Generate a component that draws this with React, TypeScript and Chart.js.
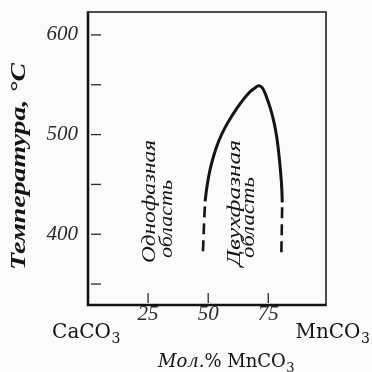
import React, { useEffect, useRef } from "react";
import { Chart, registerables } from "chart.js";

Chart.register(...registerables);

// Phase boundary (solid part), x = mol.% MnCO3, y = temperature °C
const curveX = [48.7, 49.5, 50.6, 52.2, 54.3, 57.0, 60.2, 63.6, 67.0, 69.6, 71.0, 72.5, 74.2, 75.9, 77.4, 78.6, 79.5, 80.2, 80.6, 80.8];
const curveY = [433, 448, 463, 478, 493, 507, 520, 532, 542, 547, 549, 547, 538, 526, 512, 496, 478, 460, 446, 432];
// Dashed extrapolated parts
const leftDashX = [48.7, 48.2, 47.8];
const leftDashY = [433, 407, 381];
const rightDashX = [80.8, 80.6, 80.4];
const rightDashY = [432, 404, 377];

const xTicks = [25, 50, 75];
const yTicks = [350, 400, 450, 500, 550, 600];
const yLabeled = [400, 500, 600];
const xMin = 0;
const xMax = 99;
const yMin = 329;
const yMax = 623;

const leftComponent = ["CaCO", "3"];
const rightComponent = ["MnCO", "3"];
const xTitleParts = ["Мол.", "% MnCO", "3"];
const yTitle = "Температура, °C";
const region1 = ["Однофазная", "область"];
const region2 = ["Двухфазная", "область"];

const INK = "#141414";

function toPts(xs: number[], ys: number[]) {
  return xs.map((x, i) => ({ x, y: ys[i] }));
}

function drawFitted(ctx: CanvasRenderingContext2D, text: string, x: number, y: number, font: string, target: number, angle: number) {
  ctx.save();
  ctx.translate(x, y);
  ctx.rotate(angle);
  ctx.font = font;
  const w = ctx.measureText(text).width;
  ctx.scale(target / w, 1);
  ctx.textAlign = "left";
  ctx.textBaseline = "alphabetic";
  ctx.fillText(text, 0, 0);
  ctx.restore();
}

function drawFormula(ctx: CanvasRenderingContext2D, parts: string[], cx: number, baseline: number) {
  const fBase = "20px 'DejaVu Serif'";
  const fSub = "14px 'DejaVu Serif'";
  ctx.font = fBase;
  const wb = ctx.measureText(parts[0]).width;
  ctx.font = fSub;
  const ws = ctx.measureText(parts[1]).width;
  const start = cx - (wb + ws) / 2;
  ctx.textAlign = "left";
  ctx.textBaseline = "alphabetic";
  ctx.font = fBase;
  ctx.fillText(parts[0], start, baseline);
  ctx.font = fSub;
  ctx.fillText(parts[1], start + wb + 0.5, baseline + 5);
}

const decorPlugin = {
  id: "decor",
  beforeDraw(chart: any) {
    const ctx = chart.ctx as CanvasRenderingContext2D;
    ctx.save();
    ctx.fillStyle = "#fbfbfb";
    ctx.fillRect(0, 0, chart.width, chart.height);
    ctx.restore();
  },
  afterDraw(chart: any) {
    const ctx = chart.ctx as CanvasRenderingContext2D;
    const { left, right, top, bottom } = chart.chartArea;
    const xs = chart.scales.x;
    const ys = chart.scales.y;
    ctx.save();
    ctx.strokeStyle = INK;
    ctx.fillStyle = INK;
    // frame
    ctx.lineWidth = 1.5;
    ctx.beginPath();
    ctx.moveTo(left, top);
    ctx.lineTo(right, top);
    ctx.lineTo(right, bottom);
    ctx.stroke();
    ctx.lineWidth = 2.6;
    ctx.beginPath();
    ctx.moveTo(left, top - 0.7);
    ctx.lineTo(left, bottom);
    ctx.lineTo(right + 0.7, bottom);
    ctx.stroke();
    // inner ticks
    ctx.lineWidth = 1.3;
    ctx.strokeStyle = "#2a2a2a";
    yTicks.forEach((v) => {
      const py = ys.getPixelForValue(v);
      ctx.beginPath();
      ctx.moveTo(left + 3, py);
      ctx.lineTo(left + 13, py);
      ctx.stroke();
    });
    xTicks.forEach((v) => {
      const px = xs.getPixelForValue(v);
      ctx.beginPath();
      ctx.moveTo(px, bottom - 2);
      ctx.lineTo(px, bottom - 12);
      ctx.stroke();
    });
    ctx.fillStyle = INK;
    // component labels at the ends of the x axis
    drawFormula(ctx, leftComponent, xs.getPixelForValue(0) - 2, 338);
    drawFormula(ctx, rightComponent, xs.getPixelForValue(100) + 4, 338);
    // x title
    {
      let x = 158;
      const base = 367;
      ctx.textAlign = "left";
      ctx.textBaseline = "alphabetic";
      ctx.font = "italic 18px 'DejaVu Serif'";
      ctx.fillText(xTitleParts[0], x, base);
      x += ctx.measureText(xTitleParts[0]).width;
      ctx.font = "18px 'DejaVu Serif'";
      ctx.fillText(xTitleParts[1], x, base);
      x += ctx.measureText(xTitleParts[1]).width + 0.5;
      ctx.font = "13px 'DejaVu Serif'";
      ctx.fillText(xTitleParts[2], x, base + 5);
    }
    // y title
    drawFitted(ctx, yTitle, 25, 270, "italic bold 21px 'Liberation Serif'", 207, -Math.PI / 2);
    // region labels
    const rf = "italic 19px 'Liberation Serif'";
    drawFitted(ctx, region1[0], 155, 263, rf, 123, -Math.PI / 2);
    drawFitted(ctx, region1[1], 172, 258, rf, 78, -Math.PI / 2);
    drawFitted(ctx, region2[0], 240, 266, rf, 126, -Math.PI / 2);
    drawFitted(ctx, region2[1], 254, 258, rf, 81, -Math.PI / 2);
    ctx.restore();
  },
};

export default function App() {
  const ref = useRef<HTMLCanvasElement | null>(null);
  useEffect(() => {
    if (!ref.current) return;
    const lineCommon = {
      showLine: true,
      pointRadius: 0,
      borderColor: INK,
      fill: false,
    };
    const chart = new Chart(ref.current, {
      type: "scatter",
      data: {
        datasets: [
          { ...lineCommon, data: toPts(curveX, curveY), borderWidth: 3, tension: 0.4 },
          { ...lineCommon, data: toPts(leftDashX, leftDashY), borderWidth: 2.6, borderDash: [11, 6], borderDashOffset: 12 },
          { ...lineCommon, data: toPts(rightDashX, rightDashY), borderWidth: 2.6, borderDash: [11, 6], borderDashOffset: 12 },
        ],
      } as any,
      options: {
        animation: false,
        responsive: false,
        layout: { padding: { left: 0, right: 46, top: 12, bottom: 0 } },
        plugins: { legend: { display: false }, tooltip: { enabled: false }, title: { display: false } },
        scales: {
          x: {
            type: "linear",
            min: xMin,
            max: xMax,
            grid: { display: false, drawTicks: false },
            border: { display: false },
            afterBuildTicks: (s: any) => {
              s.ticks = xTicks.map((v) => ({ value: v }));
            },
            afterFit: (s: any) => {
              s.height = 67;
              s.paddingLeft = 0;
              s.paddingRight = 0;
            },
            ticks: {
              autoSkip: false,
              maxRotation: 0,
              padding: -3,
              color: "#2a2a2a",
              font: { family: "'Liberation Serif'", style: "italic", size: 21 },
              callback: (v: any) => String(v),
            },
          },
          y: {
            type: "linear",
            min: yMin,
            max: yMax,
            grid: { display: false, drawTicks: false },
            border: { display: false },
            afterBuildTicks: (s: any) => {
              s.ticks = yTicks.map((v) => ({ value: v }));
            },
            afterFit: (s: any) => {
              s.width = 88;
              s.paddingTop = 0;
              s.paddingBottom = 0;
            },
            ticks: {
              autoSkip: false,
              padding: 10,
              color: "#2a2a2a",
              font: { family: "'Liberation Serif'", style: "italic", size: 21 },
              callback: (v: any) => (yLabeled.includes(Number(v)) ? String(v) : ""),
            },
          },
        },
      } as any,
      plugins: [decorPlugin],
    });
    return () => chart.destroy();
  }, []);
  return (
    <div style={{ position: "fixed", left: 0, top: 0, width: 372, height: 372, background: "#fbfbfb" }}>
      <canvas ref={ref} width={372} height={372} style={{ display: "block" }} />
    </div>
  );
}
